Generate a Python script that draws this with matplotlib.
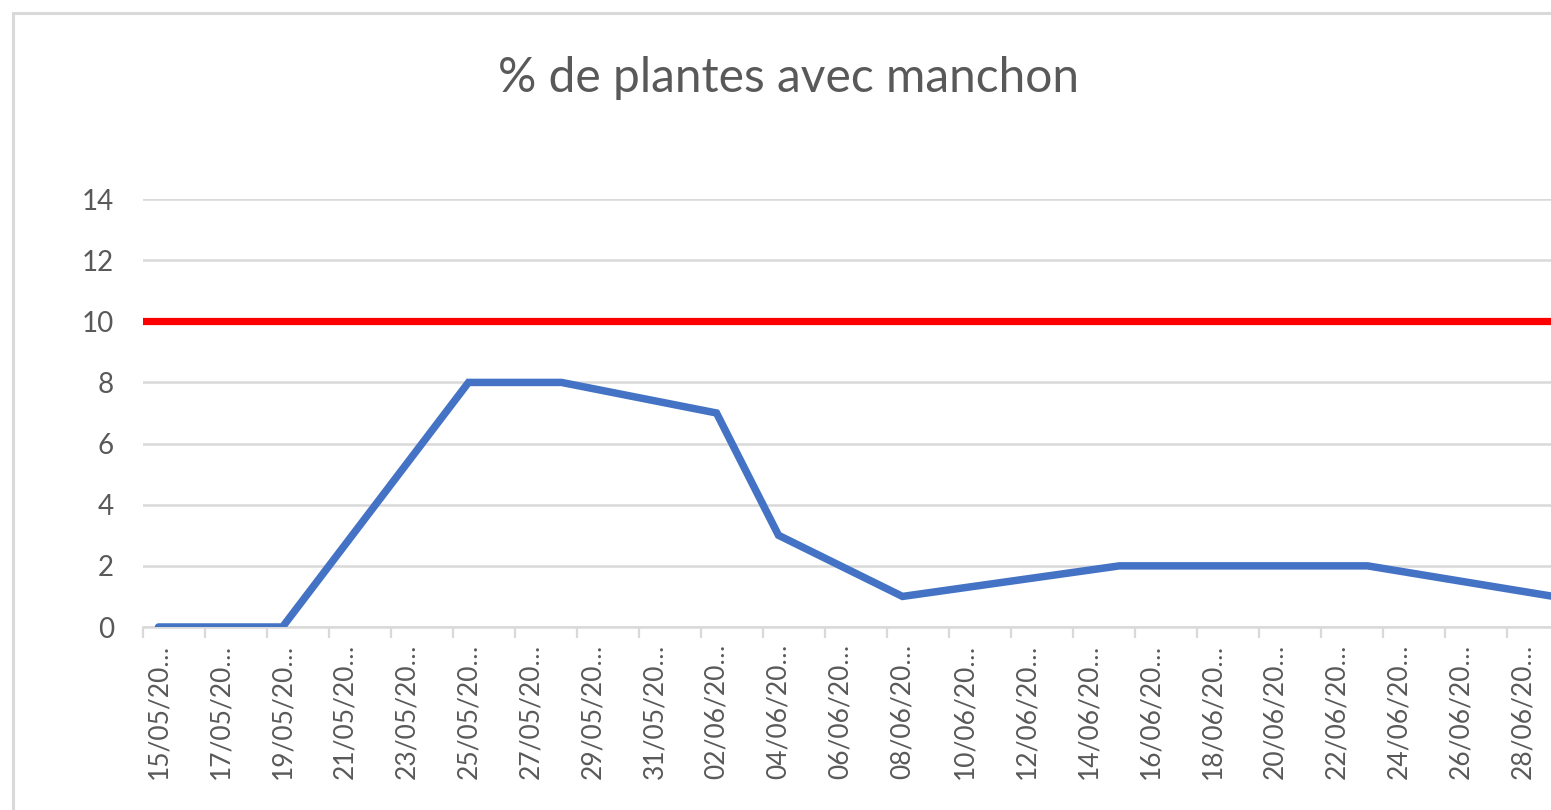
import matplotlib
matplotlib.use("Agg")
import matplotlib.pyplot as plt
import matplotlib.dates as mdates
from matplotlib.patches import Rectangle
import pandas as pd
import numpy as np

plt.rcParams['font.family'] = ['Lato', 'DejaVu Sans']

# ---------- donnees ----------
dates = ['2021-05-15', '2021-05-17', '2021-05-19', '2021-05-25', '2021-05-28',
         '2021-06-02', '2021-06-04', '2021-06-08', '2021-06-15', '2021-06-23',
         '2021-06-29']
pct_manchon = [0, 0, 0, 8, 8, 7, 3, 1, 2, 2, 1]
seuil = 10
title = "% de plantes avec manchon"

dates = pd.to_datetime(dates)
x = mdates.date2num(dates)

grey_txt = '#595959'
grid_col = '#D9D9D9'

fig = plt.figure(figsize=(15.51, 8.10), dpi=100)

# cadre du graphique (coupe a droite et en bas dans la capture)
fig.patches.append(Rectangle((12.5 / 1551, -0.1), 1.2, 1 - 12.5 / 810 + 0.1,
                             transform=fig.transFigure, fill=False,
                             edgecolor=grid_col, linewidth=2.2))

# zone de tracé : elle depasse a droite de l'image
ax = fig.add_axes([143 / 1551, 183 / 810, (1600 - 143) / 1551, 428 / 810])

x0 = x[0] - 0.5
x1 = mdates.date2num(pd.Timestamp('2021-06-30')) + 0.5
ax.set_xlim(x0, x1)
ax.set_ylim(0, 14)

ax.axhline(seuil, color='#FF0000', linewidth=5.2, zorder=3)
ax.plot(x, pct_manchon, color='#4472C4', linewidth=5.4,
        solid_joinstyle='miter', solid_capstyle='round', zorder=4)

# axe y
ax.set_yticks(np.arange(0, 15, 2))
ax.tick_params(axis='y', length=0, pad=21, labelsize=20, labelcolor=grey_txt)
ax.grid(axis='y', color=grid_col, linewidth=1.8)
ax.set_axisbelow(True)

# axe x : graduations toutes les 2 jours, etiquettes au centre du jour
label_days = np.arange(x[0], x1, 2)
ax.set_xticks(label_days - 0.5)
ax.set_xticklabels([])
ax.tick_params(axis='x', which='major', length=8, width=1.6, color=grid_col)
shown = label_days[label_days <= mdates.date2num(pd.Timestamp('2021-06-28'))]
ax.set_xticks(shown, minor=True)
labels = [mdates.num2date(d).strftime('%d/%m/%Y')[:8] + '…' for d in shown]
ax.set_xticklabels(labels, minor=True, rotation=90)
ax.tick_params(axis='x', which='minor', length=0, pad=12, labelsize=19,
               labelcolor=grey_txt)

for s in ['top', 'right', 'left']:
    ax.spines[s].set_visible(False)
ax.spines['bottom'].set_color(grid_col)
ax.spines['bottom'].set_linewidth(1.8)

fig.text(789 / 1551, 1 - 92 / 810, title, ha='center', va='baseline',
         fontsize=34.5, color=grey_txt)

fig.savefig('out.png', dpi=100)
